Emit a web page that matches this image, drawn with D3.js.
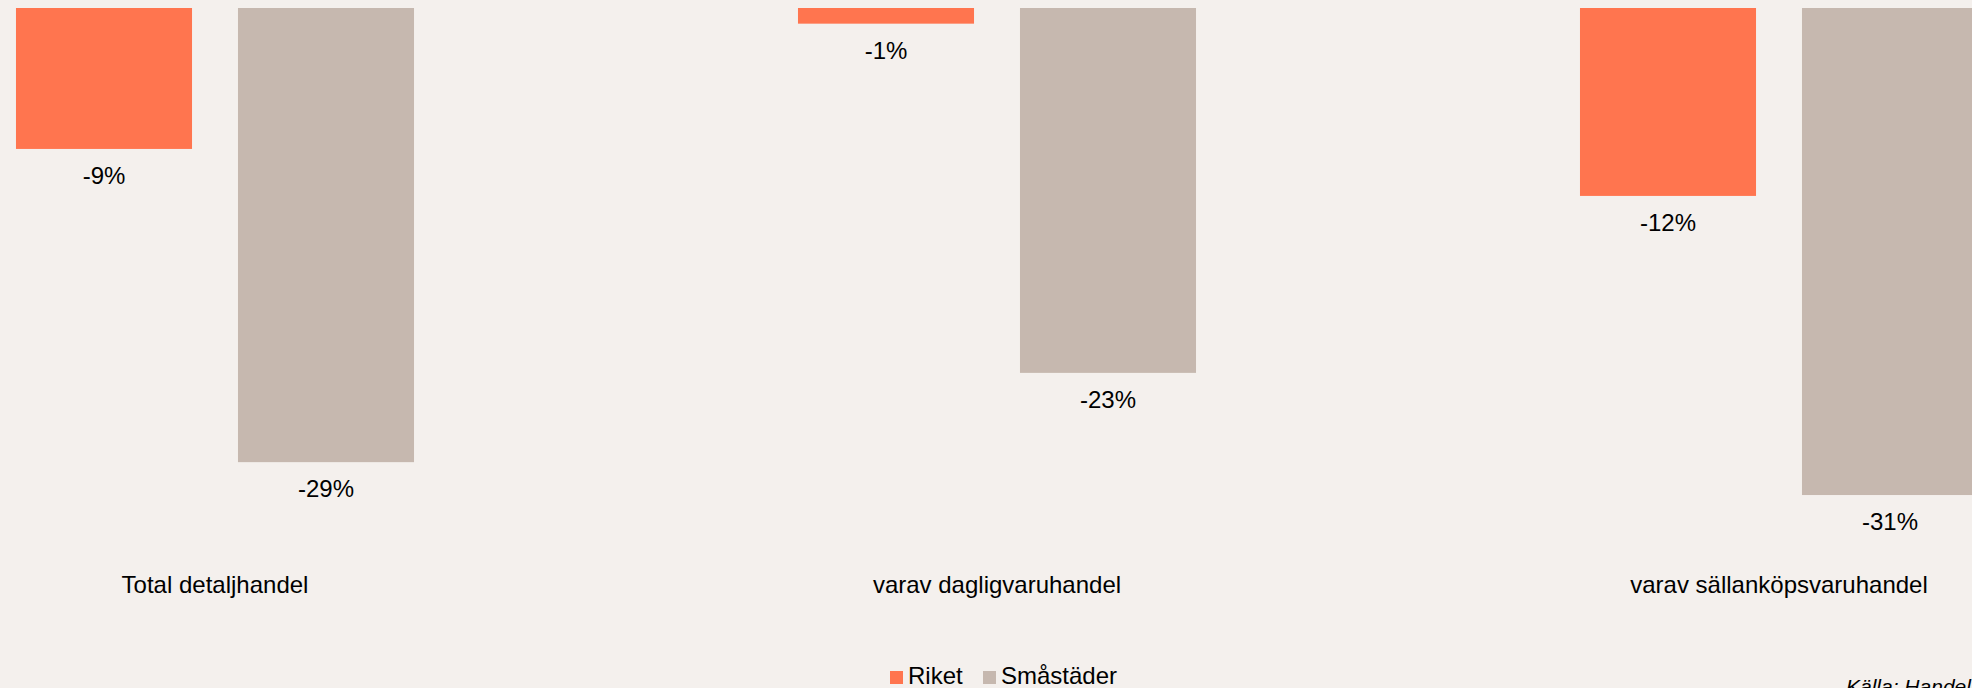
<!DOCTYPE html>
<html>
<head>
<meta charset="utf-8">
<script src="https://cdn.jsdelivr.net/npm/d3@7"></script>
<style>
  html, body { margin: 0; padding: 0; background: #f4f0ed; }
  svg { display: block; font-family: "Liberation Sans", Arial, sans-serif; }
</style>
</head>
<body>
<svg id="chart" width="1972" height="688"></svg>
<script>
// Change in retail, whole country vs. small towns (percent)
const categories = ["Total detaljhandel", "varav dagligvaruhandel", "varav sällanköpsvaruhandel"];
const seriesNames = ["Riket", "Småstäder"];
const riket = [-9.0, -1.0, -12.0];
const smastader = [-29.0, -23.3, -31.1];
const seriesColors = ["#ff754f", "#c6b8af"];
const sourceText = "Källa: Handel";

const W = 1972, H = 688;
const svg = d3.select("#chart");
svg.append("rect").attr("width", W).attr("height", H).attr("fill", "#f4f0ed");

const data = categories.map((c, i) => ({
  category: c,
  values: [
    { series: seriesNames[0], value: riket[i] },
    { series: seriesNames[1], value: smastader[i] }
  ]
}));

// Group bands (the last group runs past the right edge)
const x0 = d3.scaleBand()
  .domain(categories)
  .range([-176, 2170])
  .paddingInner(0.491)
  .paddingOuter(0.2455);

const x1 = d3.scaleBand()
  .domain(seriesNames)
  .range([0, x0.bandwidth()])
  .paddingInner(0.207)
  .paddingOuter(0);

const y = d3.scaleLinear().domain([-40, 0]).range([8 + 40 * 15.66, 8]);

const color = d3.scaleOrdinal().domain(seriesNames).range(seriesColors);
// Whole-percent labels with a plain hyphen-minus
const fmt = v => `${Math.round(v)}%`;

const groups = svg.append("g").selectAll("g")
  .data(data)
  .join("g")
  .attr("transform", d => `translate(${x0(d.category)},0)`);

groups.selectAll("rect")
  .data(d => d.values)
  .join("rect")
  .attr("x", d => x1(d.series))
  .attr("y", y(0))
  .attr("width", x1.bandwidth())
  .attr("height", d => y(d.value) - y(0))
  .attr("fill", d => color(d.series));

// Value labels below each bar
groups.selectAll("text.val")
  .data(d => d.values)
  .join("text")
  .attr("class", "val")
  .attr("x", d => x1(d.series) + x1.bandwidth() / 2)
  .attr("y", d => y(d.value) + 35)
  .attr("text-anchor", "middle")
  .attr("font-size", 24)
  .attr("fill", "#000")
  .text(d => fmt(d.value));

// Category labels
svg.append("g").selectAll("text")
  .data(categories)
  .join("text")
  .attr("x", d => x0(d) + x0.bandwidth() / 2)
  .attr("y", 593)
  .attr("text-anchor", "middle")
  .attr("font-size", 24)
  .attr("fill", "#000")
  .text(d => d);

// Legend
const legend = svg.append("g").attr("transform", "translate(890,684)");
const legendOffsets = [0, 93];
seriesNames.forEach((s, i) => {
  const g = legend.append("g").attr("transform", `translate(${legendOffsets[i]},0)`);
  g.append("rect").attr("x", 0).attr("y", -13).attr("width", 13).attr("height", 13).attr("fill", color(s));
  g.append("text").attr("x", 18).attr("y", 0).attr("font-size", 24).attr("fill", "#000").text(s);
});

// Source note
svg.append("text")
  .attr("x", 1846)
  .attr("y", 694)
  .attr("font-size", 21)
  .attr("font-style", "italic")
  .attr("fill", "#000")
  .text(sourceText);
</script>
</body>
</html>
